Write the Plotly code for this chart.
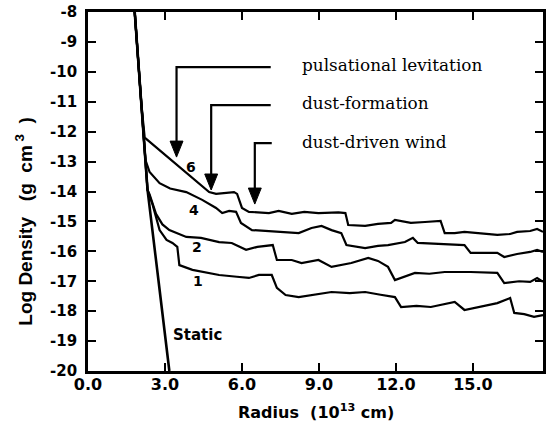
import plotly.graph_objects as go

# ---------------- data ----------------
x_tick_vals = [0, 3, 6, 9, 12, 15]
x_tick_labels = ["0.0", "3.0", "6.0", "9.0", "12.0", "15.0"]
y_tick_vals = [-8, -9, -10, -11, -12, -13, -14, -15, -16, -17, -18, -19, -20]
y_tick_labels = ["-8", "-9", "-10", "-11", "-12", "-13", "-14", "-15", "-16",
                 "-17", "-18", "-19", "-20"]

static_x = [1.82, 2.07, 2.32, 2.75, 3.17]
static_y = [-8, -11, -13.95, -17, -20]

model6_x = [1.82, 2.07, 2.21, 4.72, 4.99, 5.69, 5.81, 6.00, 6.27, 7.05, 7.43, 7.94,
            8.43, 8.98, 9.76, 10.03, 10.14, 10.80, 11.30, 11.81, 11.96, 12.58, 13.13,
            13.74, 13.90, 14.29, 14.67, 15.17, 15.95, 16.45, 16.72, 17.23, 17.50, 17.73]
model6_y = [-8, -11, -12.2, -14.02, -14.08, -14.02, -14.08, -14.55, -14.68, -14.72,
            -14.65, -14.75, -14.68, -14.72, -14.70, -14.72, -15.12, -15.15, -15.08,
            -15.05, -14.95, -15.05, -15.02, -14.98, -15.39, -15.39, -15.35, -15.39,
            -15.45, -15.42, -15.35, -15.32, -15.25, -15.35]

model4_x = [1.82, 2.07, 2.24, 2.40, 2.79, 3.20, 3.83, 4.45, 4.99, 5.23, 5.50, 5.77,
            5.96, 6.39, 7.00, 7.70, 8.21, 8.71, 9.10, 9.49, 9.87, 10.07, 10.80, 11.30,
            11.69, 12.35, 12.66, 12.85, 13.63, 14.67, 14.91, 15.95, 16.22, 16.72, 17.23,
            17.50, 17.73]
model4_y = [-8, -11, -12.95, -13.35, -13.72, -13.90, -14.02, -14.28, -14.55, -14.72,
            -14.65, -14.68, -15.05, -15.29, -15.32, -15.35, -15.39, -15.22, -15.15,
            -15.29, -15.39, -15.79, -15.89, -15.82, -15.79, -15.69, -15.55, -15.72,
            -15.76, -15.79, -16.05, -16.05, -16.19, -16.09, -16.02, -15.95, -16.02]

model2_x = [1.82, 2.07, 2.32, 2.40, 2.65, 2.90, 3.17, 3.83, 4.40, 5.11, 5.60, 6.16,
            6.60, 7.20, 7.36, 7.94, 8.32, 8.98, 9.49, 10.26, 10.92, 11.30, 11.69, 11.96,
            12.74, 13.30, 13.90, 14.91, 15.95, 16.22, 16.80, 17.23, 17.50, 17.73]
model2_y = [-8, -11, -13.95, -14.10, -14.75, -15.10, -15.29, -15.52, -15.55, -15.69,
            -15.72, -15.95, -15.85, -15.79, -16.29, -16.29, -16.39, -16.29, -16.52,
            -16.39, -16.22, -16.32, -16.52, -16.96, -16.72, -16.75, -16.69, -16.69,
            -16.72, -17.06, -17.00, -17.02, -16.89, -17.02]

model1_x = [1.82, 2.07, 2.32, 2.52, 2.79, 3.06, 3.29, 3.48, 3.56, 4.07, 5.11, 5.80,
            6.27, 6.66, 7.16, 7.36, 7.70, 8.21, 8.80, 9.49, 10.20, 10.80, 11.40, 11.96,
            12.20, 12.80, 13.36, 14.29, 14.67, 15.30, 15.95, 16.45, 16.61, 17.00, 17.38,
            17.73]
model1_y = [-8, -11, -13.95, -14.45, -15.29, -15.62, -15.72, -15.85, -16.46, -16.62,
            -16.79, -16.85, -16.89, -16.79, -16.79, -17.22, -17.46, -17.53, -17.45,
            -17.36, -17.40, -17.36, -17.45, -17.53, -17.86, -17.82, -17.86, -17.69,
            -17.96, -17.85, -17.73, -17.56, -18.06, -18.10, -18.19, -18.13]

curve_labels = ["6", "4", "2", "1"]
curve_label_x = [4.03, 4.14, 4.26, 4.30]
curve_label_y = [-13.18, -14.62, -15.85, -16.99]
static_label = "Static"
static_label_x = 3.25
static_label_y = -18.8

arrow_texts = ["pulsational levitation", "dust-formation", "dust-driven wind"]
arrow_x = [3.45, 4.80, 6.50]
arrow_top_y = [-9.84, -11.11, -12.38]
arrow_tip_y = [-12.85, -13.95, -14.42]
arrow_right_x = [7.12, 7.12, 7.16]
arrow_text_x = 8.28
arrow_text_y = [-9.77, -11.04, -12.35]

x_range = [0, 17.73]
y_range = [-20, -8]

# ---------------- layout geometry ----------------
W, H = 546, 423
ML, MR, MT, MB = 88, 0, 12, 52
plot_w = W - ML - MR
plot_h = H - MT - MB
px_per_x = plot_w / (x_range[1] - x_range[0])
px_per_y = plot_h / (y_range[1] - y_range[0])
head_len = 16 / px_per_y      # arrow head length (data units)
head_half = 6.5 / px_per_x    # arrow head half-width (data units)

# ---------------- figure ----------------
fig = go.Figure()

fig.add_trace(go.Scatter(x=static_x, y=static_y, mode="lines",
                         line=dict(color="black", width=2.6),
                         showlegend=False, hoverinfo="skip"))
for cx, cy in [(model6_x, model6_y), (model4_x, model4_y),
               (model2_x, model2_y), (model1_x, model1_y)]:
    fig.add_trace(go.Scatter(x=cx, y=cy, mode="lines",
                             line=dict(color="black", width=2.2),
                             showlegend=False, hoverinfo="skip"))

# arrows: leader line + shaft, and a filled head
shapes = []
for ax_, ty, tip, rx in zip(arrow_x, arrow_top_y, arrow_tip_y, arrow_right_x):
    fig.add_trace(go.Scatter(x=[rx, ax_, ax_], y=[ty, ty, tip + head_len * 0.6],
                             mode="lines",
                             line=dict(color="black", width=2.2),
                             showlegend=False, hoverinfo="skip"))
    path = (f"M {ax_ - head_half} {tip + head_len} L {ax_ + head_half} {tip + head_len} "
            f"L {ax_} {tip} Z")
    shapes.append(dict(type="path", path=path, xref="x", yref="y",
                       fillcolor="black", line=dict(color="black", width=1)))

annotations = []
for t, ty in zip(arrow_texts, arrow_text_y):
    annotations.append(dict(x=arrow_text_x, y=ty, xref="x", yref="y", text=t,
                            showarrow=False, xanchor="left", yanchor="middle",
                            font=dict(family="DejaVu Serif", size=16.9, color="black")))
for t, lx, ly in zip(curve_labels, curve_label_x, curve_label_y):
    annotations.append(dict(x=lx, y=ly, xref="x", yref="y", text=t, showarrow=False,
                            xanchor="center", yanchor="middle",
                            font=dict(family="DejaVu Sans", size=14, color="black",
                                      weight="bold")))
annotations.append(dict(x=static_label_x, y=static_label_y, xref="x", yref="y",
                        text=static_label, showarrow=False, xanchor="left",
                        yanchor="middle",
                        font=dict(family="DejaVu Sans", size=15, color="black",
                                  weight="bold")))
# axis titles
annotations.append(dict(x=-0.14, y=-15.0, xref="paper", yref="y",
                        text="Log Density   (g  cm<sup> 3</sup>  )", textangle=-90,
                        showarrow=False, xanchor="center", yanchor="middle",
                        font=dict(family="Liberation Sans", size=19, color="black",
                                  weight="bold")))
annotations.append(dict(x=0.5, y=-0.114, xref="paper", yref="paper",
                        text="Radius  (10<sup>13</sup> cm)", showarrow=False,
                        xanchor="center", yanchor="middle",
                        font=dict(family="DejaVu Sans", size=16, color="black",
                                  weight="bold")))

axis_common = dict(showgrid=False, zeroline=False, showline=True, linecolor="black",
                   linewidth=2.6, mirror="ticks", ticks="inside", tickcolor="black",
                   tickwidth=2.2, ticklen=8)

fig.update_layout(
    width=W, height=H, autosize=False,
    margin=dict(l=ML, r=MR, t=MT, b=MB, pad=0),
    paper_bgcolor="white", plot_bgcolor="white",
    showlegend=False,
    annotations=annotations,
    shapes=shapes,
    xaxis=dict(range=x_range, tickmode="array", tickvals=x_tick_vals,
               ticktext=x_tick_labels,
               tickfont=dict(family="DejaVu Sans", size=16, color="black",
                             weight="bold"),
               ticklabelstandoff=-3, **axis_common),
    yaxis=dict(range=y_range, tickmode="array", tickvals=y_tick_vals,
               ticktext=y_tick_labels,
               tickfont=dict(family="DejaVu Sans", size=15, color="black",
                             weight="bold"),
               ticklabelstandoff=5, **axis_common),
)

fig.write_html("out.html")
